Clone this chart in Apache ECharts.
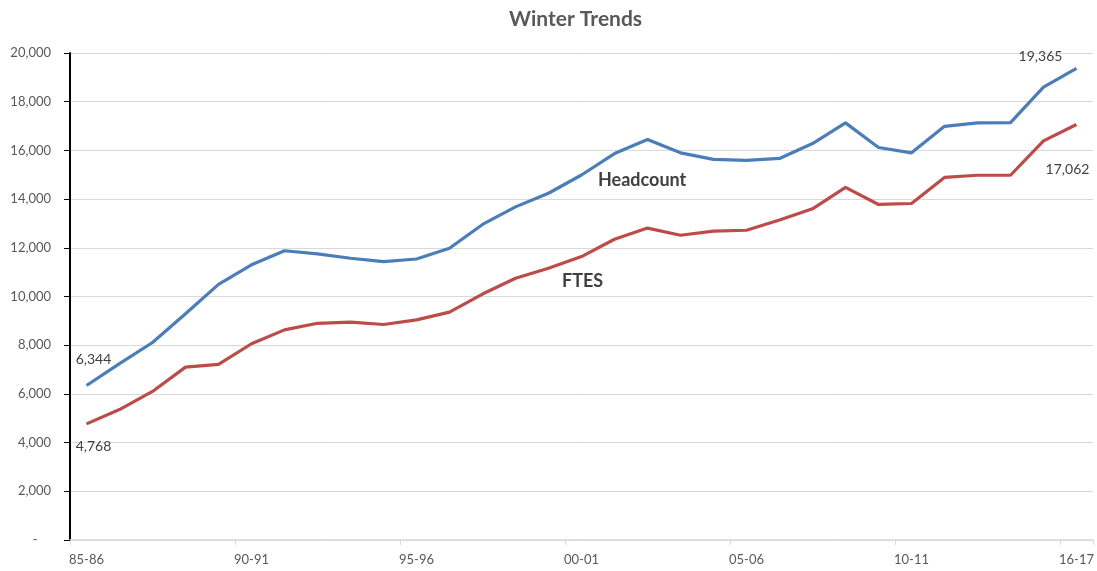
<!DOCTYPE html>
<html>
<head>
<meta charset="utf-8">
<script src="https://cdn.jsdelivr.net/npm/echarts@6/dist/echarts.min.js"></script>
<style>
  html, body { margin: 0; padding: 0; background: #ffffff; }
  #main { width: 1097px; height: 571px; }
</style>
</head>
<body>
<div id="main"></div>
<script>
// school years (axis shows every 5th)
var years = ['85-86', '86-87', '87-88', '88-89', '89-90', '90-91', '91-92', '92-93', '93-94', '94-95',
  '95-96', '96-97', '97-98', '98-99', '99-00', '00-01', '01-02', '02-03', '03-04', '04-05',
  '05-06', '06-07', '07-08', '08-09', '09-10', '10-11', '11-12', '12-13', '13-14', '15-16', '16-17'];
var headcount = [6344, 7240, 8110, 9290, 10500, 11300, 11880, 11750, 11570, 11430,
  11540, 11980, 12960, 13680, 14240, 14990, 15870, 16450, 15900, 15630,
  15590, 15670, 16280, 17130, 16120, 15900, 16990, 17130, 17140, 18600, 19365];
var ftes = [4768, 5356, 6100, 7100, 7210, 8060, 8630, 8900, 8950, 8850,
  9040, 9360, 10100, 10750, 11160, 11640, 12350, 12810, 12515, 12685,
  12720, 13140, 13600, 14480, 13780, 13820, 14890, 14980, 14980, 16390, 17062];

var myChart = echarts.init(document.getElementById('main'));
var font = 'Lato, "Open Sans", sans-serif';
var fmt = function (v) { return v.toLocaleString('en-US'); };

// only first and last point get a value label
function withLabels(arr, first, last) {
  return arr.map(function (v, i) {
    if (i === 0) return { value: v, label: first };
    if (i === arr.length - 1) return { value: v, label: last };
    return v;
  });
}
var lbl = { show: true, color: '#404040', fontSize: 14, fontFamily: font,
  formatter: function (p) { return fmt(p.value); } };

var option = {
  backgroundColor: '#ffffff',
  animation: false,
  title: {
    text: 'Winter Trends',
    left: 504,
    top: 4,
    textStyle: { fontSize: 21, fontWeight: 'bold', color: '#595959', fontFamily: font }
  },
  grid: { left: 70, right: 4, top: 53, bottom: 31, containLabel: false },
  xAxis: {
    type: 'category',
    data: years,
    boundaryGap: true,
    axisLine: { lineStyle: { color: '#d9d9d9', width: 1.5 } },
    axisTick: { show: true, length: 5, lineStyle: { color: '#d9d9d9' } },
    axisLabel: { interval: 4, color: '#595959', fontSize: 13, fontFamily: font, margin: 13 },
    splitLine: { show: false }
  },
  yAxis: {
    type: 'value',
    min: 0,
    max: 20000,
    interval: 2000,
    axisLine: { show: true, lineStyle: { color: '#000000', width: 2 } },
    axisTick: { show: true, length: 6, lineStyle: { color: '#000000' } },
    axisLabel: {
      color: '#595959', fontSize: 13, fontFamily: font, margin: 19,
      formatter: function (v) { return v === 0 ? '-    ' : fmt(v); }
    },
    splitLine: { lineStyle: { color: '#d9d9d9', width: 1 } }
  },
  series: [
    {
      name: 'Headcount',
      type: 'line',
      symbol: 'circle',
      symbolSize: 0.1,
      showSymbol: true,
      lineStyle: { color: '#4a7ebb', width: 3.2 },
      itemStyle: { color: '#4a7ebb' },
      data: withLabels(headcount,
        Object.assign({}, lbl, { position: 'top', offset: [7, -14] }),
        Object.assign({}, lbl, { position: 'top', offset: [-36, 0] }))
    },
    {
      name: 'FTES',
      type: 'line',
      symbol: 'circle',
      symbolSize: 0.1,
      showSymbol: true,
      lineStyle: { color: '#be4b48', width: 3.2 },
      itemStyle: { color: '#be4b48' },
      data: withLabels(ftes,
        Object.assign({}, lbl, { position: 'bottom', offset: [7, 11] }),
        Object.assign({}, lbl, { position: 'bottom', offset: [-9, 33] }))
    }
  ],
  graphic: [
    { type: 'text', left: 598, top: 171,
      style: { text: 'Headcount', fill: '#404040', font: 'bold 18px ' + font } },
    { type: 'text', left: 562, top: 272,
      style: { text: 'FTES', fill: '#404040', font: 'bold 18px ' + font } }
  ]
};

option && myChart.setOption(option);
</script>
</body>
</html>
